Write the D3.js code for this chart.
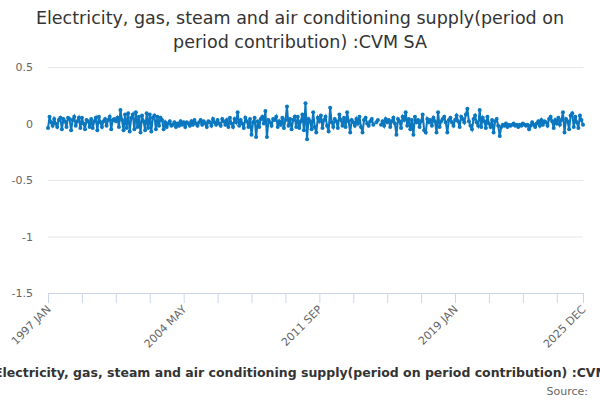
<!DOCTYPE html>
<html><head><meta charset="utf-8">
<script src="https://cdn.jsdelivr.net/npm/d3@7"></script>
<style>body{margin:0;background:#fff}svg{display:block;font-family:"DejaVu Sans",sans-serif}</style>
</head><body><svg id="c" width="600" height="400"></svg>
<script>
const titleLines = ["Electricity, gas, steam and air conditioning supply(period on", "period contribution) :CVM SA"];
const seriesName = "Electricity, gas, steam and air conditioning supply(period on period contribution) :CVM SA";
const startYear = 1997;
const monthNames = ["JAN","FEB","MAR","APR","MAY","JUN","JUL","AUG","SEP","OCT","NOV","DEC"];
const yTicks = [0.5, 0, -0.5, -1, -1.5];
const tickEvery = 22;
const labelIdx = [0, 88, 176, 264, 347];
const values = [
 -0.04, 0.06, 0.01,-0.02, 0.04, 0.00,-0.03, 0.03, 0.05,-0.05, 0.04, 0.02,
 -0.03, 0.05, 0.04,-0.06, 0.03, 0.06,-0.02, 0.02, 0.05,-0.04, 0.05, 0.00,
 -0.05, 0.03, 0.02,-0.03, 0.04,-0.04, 0.02, 0.05,-0.06, 0.06, 0.01,-0.03,
  0.02, 0.04,-0.02, 0.03, 0.06,-0.05, 0.03, 0.04, 0.02, 0.05,-0.03, 0.12,
  0.03,-0.06, 0.08,-0.04, 0.09,-0.07, 0.05, 0.08,-0.05, 0.10,-0.03, 0.06,
 -0.08, 0.07, 0.02,-0.06, 0.09,-0.04, 0.08,-0.07, 0.05, 0.07,-0.05, 0.06,
 -0.02, 0.05, 0.03,-0.05, 0.01,-0.03, 0.00, 0.02,-0.02,-0.01, 0.01,-0.03,
  0.00,-0.02, 0.02,-0.01, 0.01,-0.03, 0.01, 0.00,-0.02, 0.02,-0.01, 0.03,
  0.00,-0.02, 0.01, 0.03,-0.01, 0.02, 0.00,-0.03, 0.02, 0.01,-0.02, 0.04,
  0.01,-0.01, 0.03, 0.00,-0.02, 0.04, 0.02,-0.01, 0.03,-0.03, 0.05, 0.00,
 -0.03, 0.04, 0.01, 0.10,-0.02, 0.03, 0.00,-0.04, 0.05, 0.02,-0.03, 0.04,
 -0.10, 0.01, 0.05,-0.12, 0.02,-0.03, 0.04, 0.06, 0.00, 0.11,-0.12, 0.03,
  0.01,-0.02, 0.04, 0.03, 0.06,-0.03, 0.02,-0.01, 0.05,-0.04, 0.03, 0.15,
 -0.02, 0.04,-0.05, 0.03, 0.06,-0.03, 0.06,-0.04, 0.02, 0.08,-0.06, 0.18,
 -0.14, 0.04, 0.02,-0.05, 0.10,-0.03,-0.08, 0.05, 0.02, 0.07,-0.04, 0.03,
  0.06,-0.02,-0.07, 0.14, 0.01,-0.03, 0.04, 0.02,-0.04, 0.08, 0.03,-0.02,
  0.05,-0.03, 0.10, 0.02,-0.08, 0.03, 0.01,-0.02, 0.04, 0.00, 0.06,-0.03,
 -0.08, 0.03, 0.05, 0.00,-0.02, 0.02, 0.04,-0.01, null, 0.01, 0.03, null,
 -0.01, 0.02,-0.02, 0.04, 0.01, 0.03,-0.03, 0.02, 0.05, 0.00,-0.10, 0.04,
  0.02,-0.04, 0.06, 0.03, 0.10,-0.02, 0.04,-0.05, 0.03,-0.10, 0.06, 0.01,
  0.03,-0.03, 0.02, 0.08,-0.06,-0.08, 0.04, 0.01, 0.03,-0.02, 0.05, 0.02,
 -0.08, 0.10,-0.03, 0.02, 0.04, 0.06, 0.01,-0.08, 0.03, 0.05, 0.01,-0.02,
  0.03, 0.07, 0.02,-0.03, 0.06, 0.04, 0.01, 0.08, 0.13, 0.02,-0.02,-0.05,
  0.04, 0.07, 0.01,-0.02, 0.12,-0.03, 0.05, 0.02,-0.04, 0.06, 0.00,-0.03,
  0.03,-0.08, 0.02, 0.04,-0.02,-0.11,-0.03,-0.01,-0.02, 0.00,-0.03,-0.01,
 -0.02,-0.01, 0.00,-0.02,-0.01,-0.03,-0.01,-0.02, 0.00,-0.01,-0.02,-0.01,
 -0.05,-0.02, 0.01,-0.01,-0.03, 0.00, 0.02,-0.02, 0.03,-0.01, 0.02, 0.01,
 -0.02, 0.04, 0.06, 0.02,-0.04, 0.03, 0.00, 0.05,-0.01, 0.03, 0.10,-0.08,
  0.04, 0.02,-0.05, 0.07, 0.09,-0.03, 0.06, 0.01,-0.04, 0.07, 0.03,-0.01
];
const labels = values.map((v,i)=> (startYear + Math.floor(i/12)) + " " + monthNames[i%12]);

const svg = d3.select("#c");
const L = 48, R = 583, T = 67, B = 293;
const x = d3.scaleLinear().domain([0, values.length-1]).range([L, R]);
const y = d3.scaleLinear().domain([-1.5, 0.5]).range([B, T]);
const color = "#0b77bf";

// title
const tt = svg.append("text").attr("x",300).attr("text-anchor","middle")
  .attr("fill","#333").style("font-size","17.5px");
titleLines.forEach((t,i)=> tt.append("tspan").attr("x",300).attr("y", 24 + i*24).text(t));

// grid + y axis
const yAxis = d3.axisLeft(y).tickValues(yTicks).tickSize(-(R-L)).tickFormat(d=>String(d));
const gy = svg.append("g").attr("transform",`translate(${L},0)`).call(yAxis);
gy.select(".domain").remove();
gy.selectAll(".tick line").attr("stroke","#e6e6e6");
gy.selectAll(".tick line").filter(d=>d===-1.5).remove();
gy.selectAll(".tick text").attr("x",-15).attr("fill","#666").style("font-size","11px").style("font-family","DejaVu Sans");

// x axis
const tickIdx = d3.range(0, values.length, tickEvery).concat([values.length-1]);
const xAxis = d3.axisBottom(x).tickValues(tickIdx).tickSize(10)
  .tickFormat(d=> labelIdx.includes(d) ? labels[d] : "");
const gx = svg.append("g").attr("transform",`translate(0,${B})`).call(xAxis);
gx.select(".domain").attr("stroke","#ccd6eb");
gx.selectAll(".tick line").attr("stroke","#ccd6eb");
gx.selectAll(".tick text").attr("fill","#666").style("font-size","11px").style("font-family","DejaVu Sans")
  .attr("text-anchor","end").attr("dy",null).attr("y",0)
  .attr("transform","translate(3,17) rotate(-45)");

// line
const data = values.map((v,i)=>({i,v}));
const line = d3.line().defined(d=>d.v!==null).x(d=>x(d.i)).y(d=>y(d.v));
svg.append("path").datum(data).attr("d",line).attr("fill","none").attr("stroke",color).attr("stroke-width",2);
svg.append("g").selectAll("circle").data(data.filter(d=>d.v!==null)).join("circle")
  .attr("cx",d=>x(d.i)).attr("cy",d=>y(d.v)).attr("r",2).attr("fill",color);

// bottom texts
svg.append("text").attr("x",-6).attr("y",377).attr("text-anchor","start").attr("fill","#333")
  .style("font-size","12.5px").style("font-weight","bold").text(seriesName);
svg.append("text").attr("x",588).attr("y",395).attr("text-anchor","end").attr("fill","#666")
  .style("font-size","11px").text("Source:");
</script></body></html>
